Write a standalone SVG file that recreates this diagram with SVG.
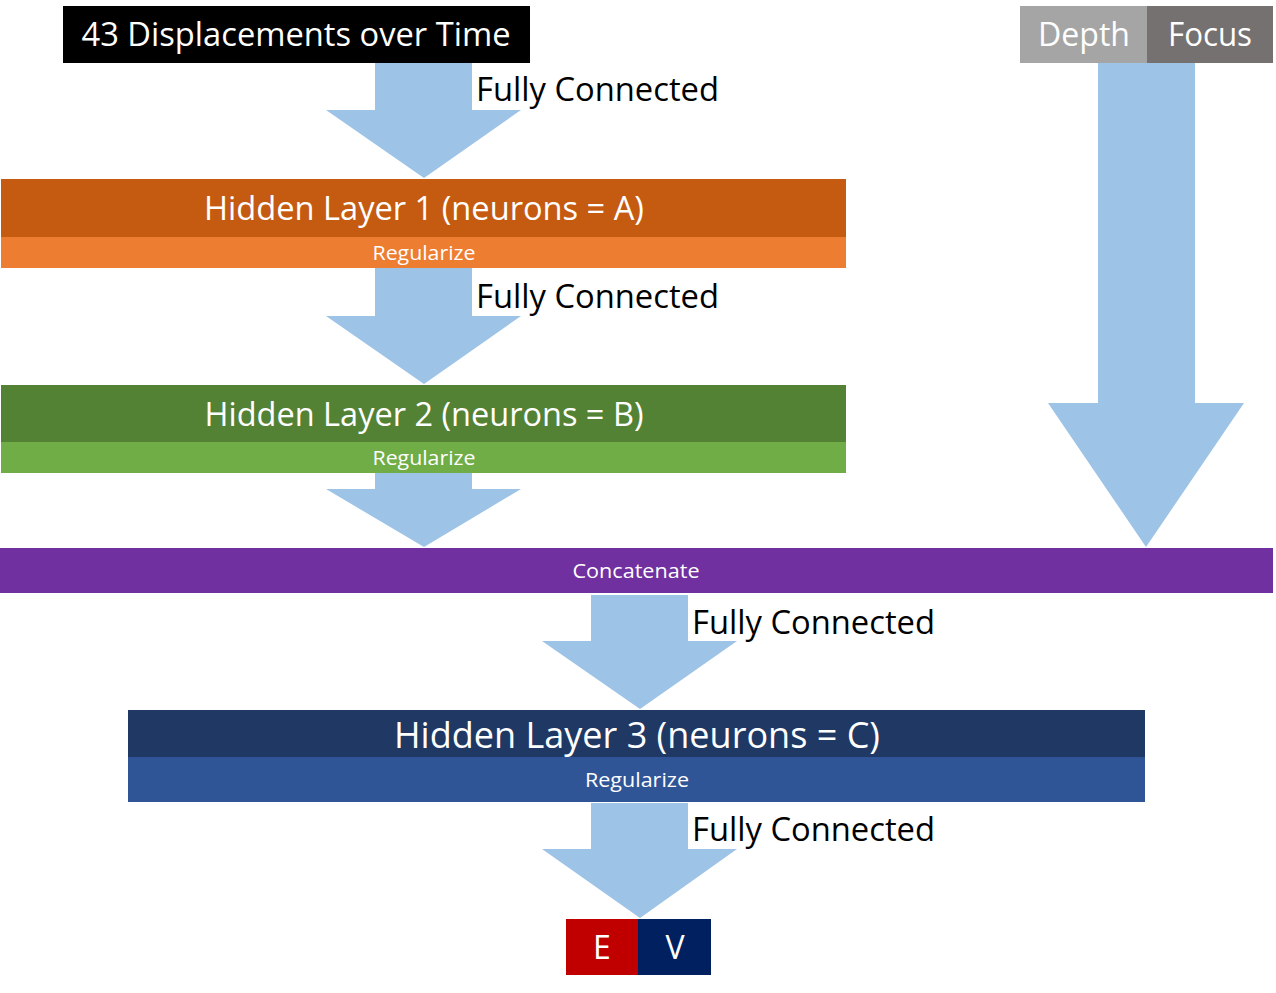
<svg xmlns="http://www.w3.org/2000/svg" width="1276" height="993" viewBox="0 0 1276 993">
<style>
text{font-family:"Open Sans","Noto Sans","Liberation Sans",sans-serif;}
.w{fill:#ffffff;text-anchor:middle;}
.k{fill:#000000;}
.arrow{fill:#9DC3E6;}
.big{font-size:32px;}
.reg{font-size:20px;}
</style>
<rect width="1276" height="993" fill="#ffffff"/>
<g id="connectors">
<polygon class="arrow" points="375,63 472,63 472,110 521,110 424,178 326,110 375,110"/>
<polygon class="arrow" points="375,268 472,268 472,316 521,316 424,384 326,316 375,316"/>
<polygon class="arrow" points="375,473 472,473 472,489 521,489 424,547 326,489 375,489"/>
<polygon class="arrow" points="1098,63 1195,63 1195,403 1244,403 1146,547 1048,403 1098,403"/>
<polygon class="arrow" points="591,595 688,595 688,641 737,641 640,709 542,641 591,641"/>
<polygon class="arrow" points="591,803 688,803 688,849 737,849 640,918 542,849 591,849"/>
<text class="k" x="476" y="101" font-size="32" textLength="243" lengthAdjust="spacingAndGlyphs">Fully Connected</text>
<text class="k" x="476" y="308" font-size="32" textLength="243" lengthAdjust="spacingAndGlyphs">Fully Connected</text>
<text class="k" x="692" y="634" font-size="32" textLength="243" lengthAdjust="spacingAndGlyphs">Fully Connected</text>
<text class="k" x="692" y="841" font-size="32" textLength="243" lengthAdjust="spacingAndGlyphs">Fully Connected</text>
</g>
<g id="input">
<rect x="63" y="6" width="467" height="57" fill="#000000"/>
<text class="w big" x="296" y="46" textLength="429" lengthAdjust="spacingAndGlyphs">43 Displacements over Time</text>
</g>
<g id="depth">
<rect x="1020" y="6" width="127" height="57" fill="#A5A5A5"/>
<text class="w big" x="1084" y="46" textLength="92" lengthAdjust="spacingAndGlyphs">Depth</text>
</g>
<g id="focus">
<rect x="1147" y="6" width="126" height="57" fill="#767171"/>
<text class="w big" x="1210" y="46" textLength="84" lengthAdjust="spacingAndGlyphs">Focus</text>
</g>
<g id="hidden1">
<rect x="1" y="179" width="845" height="58" fill="#C55A11"/>
<text class="w" x="424" y="220" font-size="33" textLength="440" lengthAdjust="spacingAndGlyphs">Hidden Layer 1 (neurons = A)</text>
<rect x="1" y="237" width="845" height="31" fill="#ED7D31"/>
<text class="w reg" x="424" y="260" textLength="103" lengthAdjust="spacingAndGlyphs">Regularize</text>
</g>
<g id="hidden2">
<rect x="1" y="385" width="845" height="57" fill="#548235"/>
<text class="w" x="424" y="426" font-size="33" textLength="439" lengthAdjust="spacingAndGlyphs">Hidden Layer 2 (neurons = B)</text>
<rect x="1" y="442" width="845" height="31" fill="#70AD47"/>
<text class="w reg" x="424" y="465" textLength="103" lengthAdjust="spacingAndGlyphs">Regularize</text>
</g>
<g id="concatenate">
<rect x="0" y="548" width="1273" height="45" fill="#7030A0"/>
<text class="w reg" x="636" y="578" textLength="127" lengthAdjust="spacingAndGlyphs">Concatenate</text>
</g>
<g id="hidden3">
<rect x="128" y="710" width="1017" height="47" fill="#203864"/>
<text class="w" x="637" y="748" font-size="36" textLength="486" lengthAdjust="spacingAndGlyphs">Hidden Layer 3 (neurons = C)</text>
<rect x="128" y="757" width="1017" height="45" fill="#2F5597"/>
<text class="w reg" x="637" y="787" textLength="104" lengthAdjust="spacingAndGlyphs">Regularize</text>
</g>
<g id="output-e">
<rect x="566" y="919" width="72" height="56" fill="#C00000"/>
<text class="w big" x="602" y="959">E</text>
</g>
<g id="output-v">
<rect x="638" y="919" width="73" height="56" fill="#002060"/>
<text class="w big" x="675" y="959">V</text>
</g>
</svg>
